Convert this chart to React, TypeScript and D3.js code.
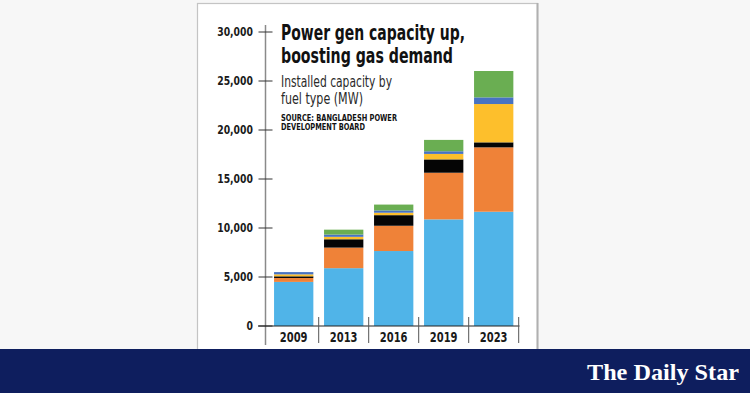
import React from 'react';
import * as d3 from 'd3';

// installed capacity by fuel type (MW)
const years = ['2009', '2013', '2016', '2019', '2023'];
const gas = [4500, 5900, 7650, 10880, 11660];
const furnaceOil = [400, 2100, 2580, 4760, 6570];
const diesel = [170, 850, 1080, 1360, 510];
const coal = [200, 250, 250, 560, 3910];
const hydroSolar = [230, 230, 230, 270, 680];
const imports = [0, 500, 600, 1160, 2690];
const yTicks = [0, 5000, 10000, 15000, 20000, 25000, 30000];

const seriesNames = ['gas', 'furnaceOil', 'diesel', 'coal', 'hydroSolar', 'imports'];
const seriesColors = ['#50b4e8', '#ef8238', '#050505', '#fdbf2c', '#4873c2', '#6aae52'];

const condensed = '"DejaVu Sans Condensed", "DejaVu Sans", sans-serif';

const App = () => {
    const width = 750, height = 393;

    const rows = years.map((yr, i) => ({
        year: yr,
        gas: gas[i],
        furnaceOil: furnaceOil[i],
        diesel: diesel[i],
        coal: coal[i],
        hydroSolar: hydroSolar[i],
        imports: imports[i],
    }));
    const stacked = d3.stack<any>().keys(seriesNames)(rows);

    const x = d3.scaleBand()
        .domain(years)
        .range([268.7, 518.7])
        .paddingInner(0.214)
        .paddingOuter(0.107);
    const y = d3.scaleLinear().domain([0, 30000]).range([326, 32]);
    const fmt = d3.format(',');
    const axisX = 265.5;
    const gap = (x.step() - x.bandwidth()) / 2;

    // heading lines: [text, baseline, size, width, weight]
    const heads: [string, number, number, number, string][] = [
        ['Power gen capacity up,', 40, 21, 184, 'bold'],
        ['boosting gas demand', 63, 21, 172, 'bold'],
        ['Installed capacity by', 87, 15, 111, 'normal'],
        ['fuel type (MW)', 104, 15, 82, 'normal'],
        ['SOURCE: BANGLADESH POWER', 120.5, 8.5, 116, 'bold'],
        ['DEVELOPMENT BOARD', 130, 8.5, 84, 'bold'],
    ];

    return (
        <svg width={width} height={height} style={{ position: 'absolute', left: 0, top: 0, display: 'block' }}>
            <rect x={0} y={0} width={width} height={height} fill="#f7f7f7" />
            {/* card */}
            <rect x={197.5} y={3.5} width={340} height={350} fill="#ffffff" stroke="#c4c4c4" strokeWidth={1.2} />
            <line x1={537.5} x2={537.5} y1={3} y2={349} stroke="#b0b0b0" strokeWidth={2} />

            {/* headings */}
            <g fontFamily={condensed} fill="#111">
                {heads.map(([t, by, fs, w, fw]) => (
                    <text key={t} x={281} y={by} fontSize={fs} fontWeight={fw}
                        textLength={w} lengthAdjust="spacingAndGlyphs"
                        fill={fw === 'bold' ? '#111' : '#2a2a2a'}>{t}</text>
                ))}
            </g>

            {/* bars */}
            {stacked.map((s, si) => (
                <g key={s.key} fill={seriesColors[si]}>
                    {s.map((d: any) => (
                        <rect key={d.data.year}
                            x={x(d.data.year)}
                            y={y(d[1])}
                            width={x.bandwidth()}
                            height={Math.max(0, y(d[0]) - y(d[1]))} />
                    ))}
                </g>
            ))}

            {/* y axis */}
            <line x1={axisX} x2={axisX} y1={25} y2={345} stroke="#8a8a8a" strokeWidth={1.5} />
            {yTicks.map(t => (
                <g key={t}>
                    <line x1={axisX - 7} x2={axisX + 7} y1={y(t)} y2={y(t)} stroke="#333" strokeWidth={1} />
                    <text transform={`translate(253,${y(t)}) scale(0.86,1)`} dy="0.36em" textAnchor="end"
                        fontFamily={condensed} fontWeight="bold" fontSize={12} fill="#1a1a1a">{fmt(t)}</text>
                </g>
            ))}

            {/* x axis */}
            <line x1={258} x2={519.5} y1={y(0)} y2={y(0)} stroke="#222" strokeWidth={1.2} />
            {years.map(yr => {
                const bx = x(yr)! + x.bandwidth() + gap;
                return (
                    <g key={yr}>
                        <line x1={bx} x2={bx} y1={317} y2={343} stroke="#555" strokeWidth={1} />
                        <text transform={`translate(${x(yr)! + x.bandwidth() / 2},341.5) scale(0.82,1)`}
                            textAnchor="middle" fontFamily={condensed}
                            fontWeight="bold" fontSize={13.5} fill="#1a1a1a">{yr}</text>
                    </g>
                );
            })}

            {/* banner */}
            <rect x={0} y={349} width={width} height={44} fill="#0e1e5e" />
            <text x={587} y={380} fontFamily='"Liberation Serif", "DejaVu Serif", serif'
                fontWeight="bold" fontSize={24} fill="#ffffff"
                textLength={152} lengthAdjust="spacingAndGlyphs">The Daily Star</text>
        </svg>
    );
};

export default App;
